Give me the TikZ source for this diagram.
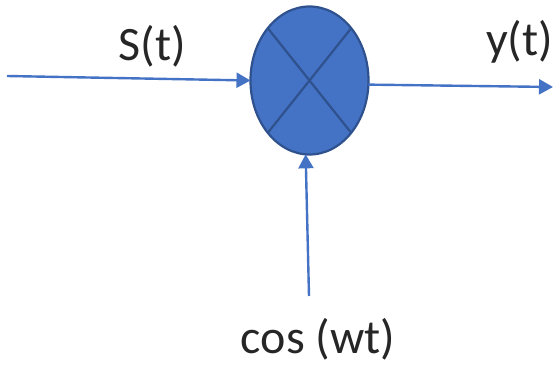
\documentclass[tikz,border=0pt]{standalone}
\usepackage{fontspec}
\setmainfont{Carlito}
\usetikzlibrary{arrows.meta,shapes.geometric}
\definecolor{fillb}{HTML}{4472C4}
\definecolor{edgeb}{HTML}{2F528F}
\tikzset{
  conn/.style={draw=fillb,line width=2.4pt,-{Triangle[length=14pt,width=15pt]}},
  lbl/.style={inner sep=0pt,font=\fontsize{48}{56}\selectfont,text=black!85}
}
\begin{document}
\begin{tikzpicture}[x=1pt,y=-1pt]
\useasboundingbox (0,0) rectangle (553,369);
\node[ellipse,draw=edgeb,fill=fillb,line width=2.2pt,minimum width=118pt,minimum height=148pt,inner sep=0pt,outer sep=0pt] (m) at (309.5,80.5) {};
\draw[edgeb,line width=2.2pt] (m.north west) -- (m.south east);
\draw[edgeb,line width=2.2pt] (m.north east) -- (m.south west);
\coordinate (s) at (7,76);
\coordinate (o) at (553,87);
\coordinate (c) at (309,296);
\draw[conn] (s) -- (m.west);
\draw[conn] (m.356) -- (o);
\draw[conn] (c) -- (m.267);
\node[lbl] (ls) at (152.5,46) {S(t)};
\node[lbl] (ly) at (519.5,42) {y(t)};
\node[lbl] (lc) at (318,339) {cos (wt)};
\end{tikzpicture}
\end{document}
